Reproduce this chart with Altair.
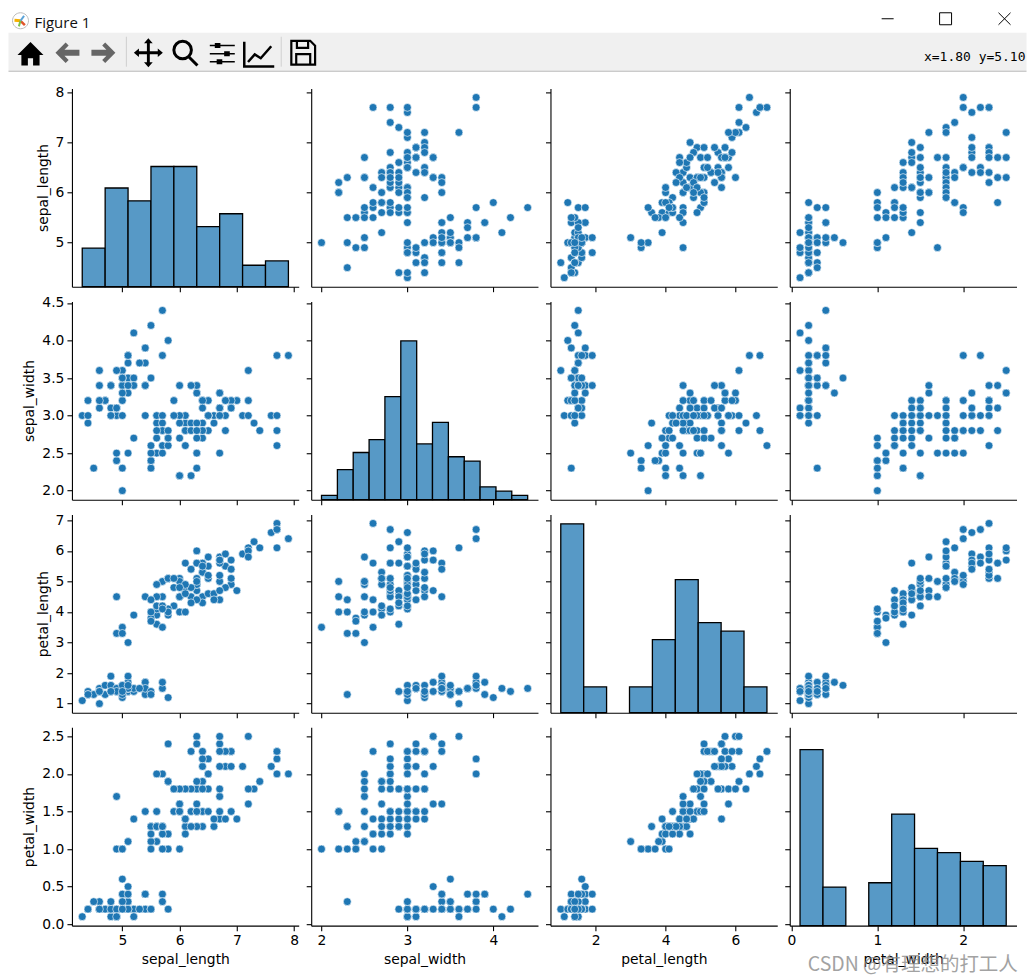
import altair as alt
import pandas as pd

sepal_length = [5.1,4.9,4.7,4.6,5.0,5.4,4.6,5.0,4.4,4.9,5.4,4.8,4.8,4.3,5.8,5.7,5.4,5.1,5.7,5.1,5.4,5.1,4.6,5.1,4.8,5.0,5.0,5.2,5.2,4.7,4.8,5.4,5.2,5.5,4.9,5.0,5.5,4.9,4.4,5.1,5.0,4.5,4.4,5.0,5.1,4.8,5.1,4.6,5.3,5.0,
7.0,6.4,6.9,5.5,6.5,5.7,6.3,4.9,6.6,5.2,5.0,5.9,6.0,6.1,5.6,6.7,5.6,5.8,6.2,5.6,5.9,6.1,6.3,6.1,6.4,6.6,6.8,6.7,6.0,5.7,5.5,5.5,5.8,6.0,5.4,6.0,6.7,6.3,5.6,5.5,5.5,6.1,5.8,5.0,5.6,5.7,5.7,6.2,5.1,5.7,
6.3,5.8,7.1,6.3,6.5,7.6,4.9,7.3,6.7,7.2,6.5,6.4,6.8,5.7,5.8,6.4,6.5,7.7,7.7,6.0,6.9,5.6,7.7,6.3,6.7,7.2,6.2,6.1,6.4,7.2,7.4,7.9,6.4,6.3,6.1,7.7,6.3,6.4,6.0,6.9,6.7,6.9,5.8,6.8,6.7,6.7,6.3,6.5,6.2,5.9]
sepal_width = [3.5,3.0,3.2,3.1,3.6,3.9,3.4,3.4,2.9,3.1,3.7,3.4,3.0,3.0,4.0,4.4,3.9,3.5,3.8,3.8,3.4,3.7,3.6,3.3,3.4,3.0,3.4,3.5,3.4,3.2,3.1,3.4,4.1,4.2,3.1,3.2,3.5,3.6,3.0,3.4,3.5,2.3,3.2,3.5,3.8,3.0,3.8,3.2,3.7,3.3,
3.2,3.2,3.1,2.3,2.8,2.8,3.3,2.4,2.9,2.7,2.0,3.0,2.2,2.9,2.9,3.1,3.0,2.7,2.2,2.5,3.2,2.8,2.5,2.8,2.9,3.0,2.8,3.0,2.9,2.6,2.4,2.4,2.7,2.7,3.0,3.4,3.1,2.3,3.0,2.5,2.6,3.0,2.6,2.3,2.7,3.0,2.9,2.9,2.5,2.8,
3.3,2.7,3.0,2.9,3.0,3.0,2.5,2.9,2.5,3.6,3.2,2.7,3.0,2.5,2.8,3.2,3.0,3.8,2.6,2.2,3.2,2.8,2.8,2.7,3.3,3.2,2.8,3.0,2.8,3.0,2.8,3.8,2.8,2.8,2.6,3.0,3.4,3.1,3.0,3.1,3.1,3.1,2.7,3.2,3.3,3.0,2.5,3.0,3.4,3.0]
petal_length = [1.4,1.4,1.3,1.5,1.4,1.7,1.4,1.5,1.4,1.5,1.5,1.6,1.4,1.1,1.2,1.5,1.3,1.4,1.7,1.5,1.7,1.5,1.0,1.7,1.9,1.6,1.6,1.5,1.4,1.6,1.6,1.5,1.5,1.4,1.5,1.2,1.3,1.4,1.3,1.5,1.3,1.3,1.3,1.6,1.9,1.4,1.6,1.4,1.5,1.4,
4.7,4.5,4.9,4.0,4.6,4.5,4.7,3.3,4.6,3.9,3.5,4.2,4.0,4.7,3.6,4.4,4.5,4.1,4.5,3.9,4.8,4.0,4.9,4.7,4.3,4.4,4.8,5.0,4.5,3.5,3.8,3.7,3.9,5.1,4.5,4.5,4.7,4.4,4.1,4.0,4.4,4.6,4.0,3.3,4.2,4.2,4.2,4.3,3.0,4.1,
6.0,5.1,5.9,5.6,5.8,6.6,4.5,6.3,5.8,6.1,5.1,5.3,5.5,5.0,5.1,5.3,5.5,6.7,6.9,5.0,5.7,4.9,6.7,4.9,5.7,6.0,4.8,4.9,5.6,5.8,6.1,6.4,5.6,5.1,5.6,6.1,5.6,5.5,4.8,5.4,5.6,5.1,5.1,5.9,5.7,5.2,5.0,5.2,5.4,5.1]
petal_width = [0.2,0.2,0.2,0.2,0.2,0.4,0.3,0.2,0.2,0.1,0.2,0.2,0.1,0.1,0.2,0.4,0.4,0.3,0.3,0.3,0.2,0.4,0.2,0.5,0.2,0.2,0.4,0.2,0.2,0.2,0.2,0.4,0.1,0.2,0.2,0.2,0.2,0.1,0.2,0.2,0.3,0.3,0.2,0.6,0.4,0.3,0.2,0.2,0.2,0.2,
1.4,1.5,1.5,1.3,1.5,1.3,1.6,1.0,1.3,1.4,1.0,1.5,1.0,1.4,1.3,1.4,1.5,1.0,1.5,1.1,1.8,1.3,1.5,1.2,1.3,1.4,1.4,1.7,1.5,1.0,1.1,1.0,1.2,1.6,1.5,1.6,1.5,1.3,1.3,1.3,1.2,1.4,1.2,1.0,1.3,1.2,1.3,1.3,1.1,1.3,
2.5,1.9,2.1,1.8,2.2,2.1,1.7,1.8,1.8,2.5,2.0,1.9,2.1,2.0,2.4,2.3,1.8,2.2,2.3,1.5,2.3,2.0,2.0,1.8,2.1,1.8,1.8,1.8,2.1,1.6,1.9,2.0,2.2,1.5,1.4,2.3,2.4,1.8,1.8,2.1,2.4,2.3,1.9,2.3,2.5,2.3,1.9,2.0,2.3,1.8]

variables = ["sepal_length", "sepal_width", "petal_length", "petal_width"]
domains = {"sepal_length": [4.12, 8.08], "sepal_width": [1.88, 4.52],
           "petal_length": [0.705, 7.195], "petal_width": [-0.02, 2.62]}
x_ticks = {"sepal_length": [5, 6, 7, 8], "sepal_width": [2, 3, 4],
           "petal_length": [2, 4, 6], "petal_width": [0, 1, 2]}
y_ticks = {"sepal_length": [5, 6, 7, 8], "sepal_width": [2.0, 2.5, 3.0, 3.5, 4.0, 4.5],
           "petal_length": [1, 2, 3, 4, 5, 6, 7], "petal_width": [0.0, 0.5, 1.0, 1.5, 2.0, 2.5]}
y_formats = {"sepal_length": "d", "sepal_width": ".1f", "petal_length": "d", "petal_width": ".1f"}

hist_edges = {
    "sepal_length": [4.3, 4.7, 5.1, 5.5, 5.9, 6.3, 6.7, 7.1, 7.5, 7.9],
    "sepal_width": [2.0, 2.185, 2.369, 2.554, 2.738, 2.923, 3.108, 3.292, 3.477, 3.662, 3.846, 4.031, 4.215, 4.4],
    "petal_length": [1.0, 1.656, 2.311, 2.967, 3.622, 4.278, 4.933, 5.589, 6.244, 6.9],
    "petal_width": [0.1, 0.367, 0.633, 0.9, 1.167, 1.433, 1.7, 1.967, 2.233, 2.5],
}
hist_counts = {
    "sepal_length": [9, 23, 20, 28, 28, 14, 17, 5, 6],
    "sepal_width": [1, 7, 11, 14, 24, 37, 13, 18, 10, 9, 3, 2, 1],
    "petal_length": [44, 6, 0, 6, 17, 31, 21, 19, 6],
    "petal_width": [41, 9, 0, 10, 26, 18, 17, 15, 14],
}
COUNT_MAX = 46.2

PW, PH = 227, 198.5
LEFT, TOP = 71.5, 87.7
BLUE, BAR = "#1f77b4", "#5799c6"
FONT = "DejaVu Sans"

df = pd.DataFrame({"sepal_length": sepal_length, "sepal_width": sepal_width,
                   "petal_length": petal_length, "petal_width": petal_width})
one = pd.DataFrame({"a": [0]})


def px(v):
    return v - LEFT


def py(v):
    return v - TOP


def x_enc(col, row_i, field=None):
    bottom = row_i == 3
    return alt.X(field or col, type="quantitative",
                 scale=alt.Scale(domain=domains[col], nice=False, zero=False),
                 axis=alt.Axis(values=x_ticks[col], format="d", labels=bottom,
                               title=col if bottom else None, grid=False))


def y_enc(row, col_i):
    first = col_i == 0
    return alt.Y(row, type="quantitative",
                 scale=alt.Scale(domain=domains[row], nice=False, zero=False),
                 axis=alt.Axis(values=y_ticks[row], format=y_formats[row], labels=first,
                               title=row if first else None, grid=False))


def scatter(i, j):
    return alt.Chart(df).mark_circle(size=62, color=BLUE, opacity=1, stroke="white",
                                     strokeWidth=0.6).encode(
        x=x_enc(variables[j], i), y=y_enc(variables[i], j))


def diag(i):
    v = variables[i]
    e = hist_edges[v]
    h = pd.DataFrame({"start": e[:-1], "end": e[1:], "count": hist_counts[v],
                      "base": [0] * len(hist_counts[v])})
    h = h[h["count"] > 0]
    axis_layer = alt.Chart(df).mark_point(opacity=0).encode(x=x_enc(v, i), y=y_enc(v, i))
    bars = alt.Chart(h).mark_rect(color=BAR, stroke="black", strokeWidth=1.3, opacity=1).encode(
        x=x_enc(v, i, "start"), x2="end",
        y=alt.Y("count:Q", axis=None, scale=alt.Scale(domain=[0, COUNT_MAX], nice=False)),
        y2="base")
    return alt.layer(axis_layer, bars).resolve_scale(y="independent")


def chrome_layers():
    base = alt.Chart(one)
    out = []
    # origin keeper and toolbar band; the page leaves the last 8px of the window blank
    out.append(base.mark_rect(color="white").encode(
        x=alt.value(px(8)), x2=alt.value(px(1027)), y=alt.value(py(8)), y2=alt.value(py(32))))
    out.append(base.mark_rect(color="#f0f0f0").encode(
        x=alt.value(px(8)), x2=alt.value(px(1027)), y=alt.value(py(32)), y2=alt.value(py(70))))
    out.append(base.mark_rule(color="#b5b5b5", strokeWidth=1).encode(
        x=alt.value(px(8)), x2=alt.value(px(1027)), y=alt.value(py(70.5))))
    for sx in [126, 281]:
        out.append(base.mark_rule(color="#d0d0d0", strokeWidth=1).encode(
            x=alt.value(px(sx)), y=alt.value(py(36)), y2=alt.value(py(66))))
    out.append(base.mark_text(text="Figure 1", font="Open Sans", fontSize=15, align="left",
                              color="#111111").encode(x=alt.value(px(34)), y=alt.value(py(22))))
    out.append(base.mark_text(text="x=1.80 y=5.10", font="DejaVu Sans Mono", fontSize=13,
                              align="right", color="black").encode(
        x=alt.value(px(1026)), y=alt.value(py(56))))
    icons = [
        ("M0,-0.9 L1,0.1 L0.7,0.1 L0.7,0.9 L0.2,0.9 L0.2,0.35 L-0.2,0.35 L-0.2,0.9 L-0.7,0.9 L-0.7,0.1 L-1,0.1 Z",
         30, 53, 26, "#000000", True, 0),
        ("M-1,0 L-0.15,-0.85 L0.1,-0.6 L-0.25,-0.25 L1,-0.25 L1,0.25 L-0.25,0.25 L0.1,0.6 L-0.15,0.85 Z",
         67, 52, 24, "#666666", True, 0),
        ("M1,0 L0.15,-0.85 L-0.1,-0.6 L0.25,-0.25 L-1,-0.25 L-1,0.25 L0.25,0.25 L-0.1,0.6 L0.15,0.85 Z",
         103, 52, 24, "#666666", True, 0),
        ("M0,-1 L0.3,-0.65 L0.1,-0.65 L0.1,-0.1 L0.65,-0.1 L0.65,-0.3 L1,0 L0.65,0.3 L0.65,0.1 L0.1,0.1 L0.1,0.65 L0.3,0.65 L0,1 L-0.3,0.65 L-0.1,0.65 L-0.1,0.1 L-0.65,0.1 L-0.65,0.3 L-1,0 L-0.65,-0.3 L-0.65,-0.1 L-0.1,-0.1 L-0.1,-0.65 L-0.3,-0.65 Z",
         148, 52, 29, "#000000", True, 0),
        ("M-0.85,-0.2 A0.65,0.65 0 1,1 0.45,-0.2 A0.65,0.65 0 1,1 -0.85,-0.2 Z M0.25,0.3 L0.9,0.95",
         185, 52, 27, "#000000", False, 3),
        ("M-1,-0.65 L1,-0.65 M-1,0 L1,0 M-1,0.65 L1,0.65", 222, 53, 25, "#000000", False, 1.5),
        ("M-0.6,-0.85 L-0.15,-0.85 L-0.15,-0.45 L-0.6,-0.45 Z M0.15,-0.2 L0.6,-0.2 L0.6,0.2 L0.15,0.2 Z M-0.45,0.45 L0,0.45 L0,0.85 L-0.45,0.85 Z",
         222, 53, 25, "#000000", True, 0),
        ("M-1,-0.8 L-1,0.85 L1,0.85 M-0.75,0.55 L-0.3,0.05 L0.1,0.3 L0.8,-0.5",
         259, 53, 30, "#000000", False, 2.5),
        ("M-0.85,-0.85 L0.5,-0.85 L0.85,-0.5 L0.85,0.85 L-0.85,0.85 Z M-0.45,-0.85 L-0.45,-0.35 L0.35,-0.35 L0.35,-0.85 M-0.5,0.85 L-0.5,0.1 L0.5,0.1 L0.5,0.85",
         303, 52, 28, "#000000", False, 2.2),
        ("M-1,0 L1,0", 888, 18, 12, "#000000", False, 1),
        ("M-1,-1 L1,-1 L1,1 L-1,1 Z", 946, 18, 12, "#000000", False, 1),
        ("M-1,-1 L1,1 M1,-1 L-1,1", 1005, 18, 12, "#000000", False, 1),
        ("M-1,0 A1,1 0 1,1 1,0 A1,1 0 1,1 -1,0 Z", 20, 20, 16, "#bbbbbb", False, 1),
        ("M-0.75,-0.05 L0,0", 20, 20, 16, "#f5b000", False, 3),
        ("M0,0 L0.55,0.55", 20, 20, 16, "#e0552a", False, 2.5),
        ("M0,0 L0.45,-0.6", 20, 20, 16, "#5aa3d8", False, 2),
        ("M0,0 L-0.2,0.7", 20, 20, 16, "#7cc04b", False, 2),
    ]
    for path, ix, iy, s, c, filled, sw in icons:
        kw = dict(shape=path, size=s * s, opacity=1, filled=filled)
        if filled:
            kw.update(fill=c, strokeWidth=0)
        else:
            kw.update(stroke=c, strokeWidth=sw, fill="transparent")
        out.append(base.mark_point(**kw).encode(x=alt.value(px(ix)), y=alt.value(py(iy))))
    return out


panels = []
for i in range(4):
    for j in range(4):
        c = diag(i) if i == j else scatter(i, j)
        if i == 0 and j == 0:
            c = alt.layer(*chrome_layers(), c.layer[0], c.layer[1]).resolve_scale(y="independent")
        if i == 3 and j == 3:
            wm = alt.Chart(one).mark_text(text="CSDN @有理想的打工人", font="Noto Sans CJK SC",
                                          fontSize=19.5, align="right", color="#8c8c8c",
                                          opacity=0.8).encode(
                x=alt.value(1019 - 790.7), y=alt.value(964 - 726))
            c = alt.layer(c.layer[0], c.layer[1], wm).resolve_scale(y="independent")
        panels.append(c.properties(width=PW, height=PH))

chart = alt.concat(*panels, columns=4, bounds="flush",
                   spacing={"row": 14.2, "column": 12.5}).properties(
    padding=0, background="white"
).configure_view(stroke=None).configure_axis(
    domainColor="black", domainWidth=1.1, tickColor="black", tickWidth=1.1, tickSize=5,
    labelColor="black", titleColor="black", labelFont=FONT, titleFont=FONT,
    labelFontSize=13.9, titleFontSize=13.9, titleFontWeight="normal", labelPadding=3,
    titlePadding=5
)

chart.save("out.html", embed_options={"renderer": "svg", "actions": False})
